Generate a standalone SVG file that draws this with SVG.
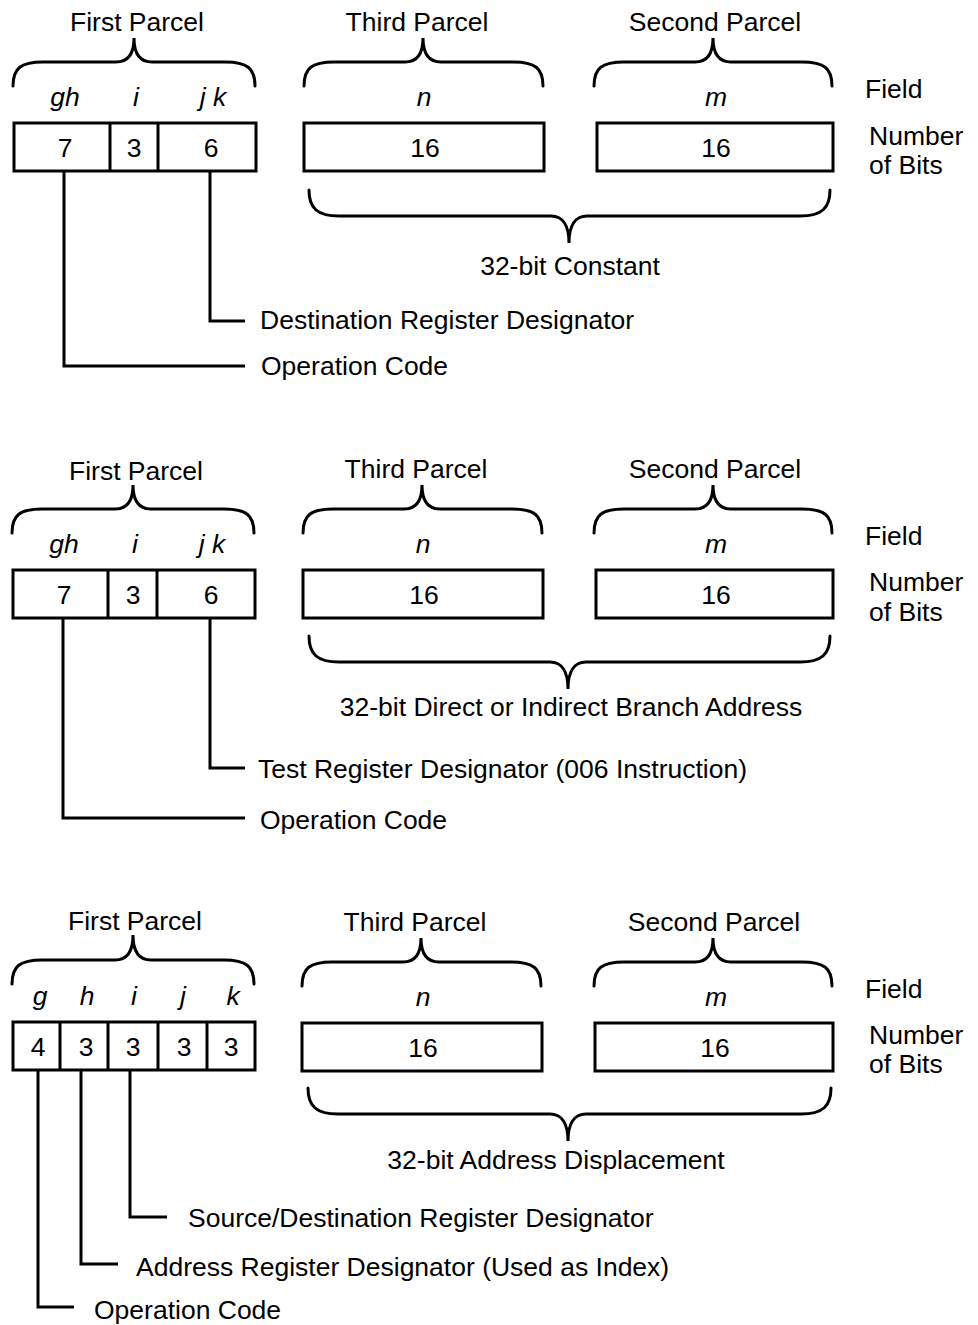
<svg xmlns="http://www.w3.org/2000/svg" width="978" height="1325" viewBox="0 0 978 1325">
<style>
text{font-family:"Liberation Sans",Arial,Helvetica,sans-serif;font-size:26.5px;fill:#000}
.c{text-anchor:middle}
.it{font-style:italic}
.box{fill:#fff;stroke:#000;stroke-width:3}
.ln{fill:none;stroke:#000;stroke-width:3}
.br{fill:none;stroke:#000;stroke-width:3;stroke-linecap:round}
</style>
<rect width="978" height="1325" fill="#fff"/>

<!-- ===== Section 1 ===== -->
<g id="s1-first">
<text class="c" x="137" y="31">First Parcel</text>
<path class="br" d="M13,86 C13,68 21,62 43,62 L116,62 C128,62 134,54 134,38 C134,54 140,62 152,62 L225,62 C247,62 255,68 255,86"/>
<text class="c it" x="65" y="106">gh</text>
<text class="c it" x="136" y="106">i</text>
<text class="c it" x="213" y="106">j k</text>
<rect class="box" x="14" y="123" width="242" height="48"/>
<line class="ln" x1="110" y1="123" x2="110" y2="171"/>
<line class="ln" x1="158" y1="123" x2="158" y2="171"/>
<text class="c" x="65" y="157">7</text>
<text class="c" x="134" y="157">3</text>
<text class="c" x="211" y="157">6</text>
</g>
<g id="s1-third">
<text class="c" x="417" y="31">Third Parcel</text>
<path class="br" d="M304,86 C304,68 312,62 334,62 L405,62 C417,62 423,54 423,38 C423,54 429,62 441,62 L513,62 C535,62 543,68 543,86"/>
<text class="c it" x="424" y="106">n</text>
<rect class="box" x="304" y="123" width="240" height="48"/>
<text class="c" x="425" y="157">16</text>
</g>
<g id="s1-second">
<text class="c" x="715" y="31">Second Parcel</text>
<path class="br" d="M594,86 C594,68 602,62 624,62 L695,62 C707,62 713,54 713,38 C713,54 719,62 731,62 L802,62 C824,62 832,68 832,86"/>
<text class="c it" x="716" y="106">m</text>
<rect class="box" x="597" y="123" width="236" height="48"/>
<text class="c" x="716" y="157">16</text>
</g>
<g id="s1-legend">
<text x="865" y="98">Field</text>
<text x="869" y="145">Number</text>
<text x="869" y="174">of Bits</text>
</g>
<g id="s1-constant">
<path class="br" d="M309,190 C309,208 317,216 339,216 L551,216 C563,216 569,226 569,243 C569,226 575,216 587,216 L800,216 C822,216 830,208 830,190"/>
<text class="c" x="570" y="275">32-bit Constant</text>
</g>
<g id="s1-labels">
<text x="260" y="329">Destination Register Designator</text>
<text x="261" y="375">Operation Code</text>
</g>

<!-- ===== Section 2 ===== -->
<g id="s2-first">
<text class="c" x="136" y="480">First Parcel</text>
<path class="br" d="M12,533 C12,515 20,509 42,509 L115,509 C127,509 133,501 133,485 C133,501 139,509 151,509 L224,509 C246,509 254,515 254,533"/>
<text class="c it" x="64" y="553">gh</text>
<text class="c it" x="135" y="553">i</text>
<text class="c it" x="212" y="553">j k</text>
<rect class="box" x="13" y="570" width="242" height="48"/>
<line class="ln" x1="108" y1="570" x2="108" y2="618"/>
<line class="ln" x1="157" y1="570" x2="157" y2="618"/>
<text class="c" x="64" y="604">7</text>
<text class="c" x="133" y="604">3</text>
<text class="c" x="211" y="604">6</text>
</g>
<g id="s2-third">
<text class="c" x="416" y="478">Third Parcel</text>
<path class="br" d="M303,533 C303,515 311,509 333,509 L404,509 C416,509 422,501 422,485 C422,501 428,509 440,509 L512,509 C534,509 542,515 542,533"/>
<text class="c it" x="423" y="553">n</text>
<rect class="box" x="303" y="570" width="240" height="48"/>
<text class="c" x="424" y="604">16</text>
</g>
<g id="s2-second">
<text class="c" x="715" y="478">Second Parcel</text>
<path class="br" d="M594,533 C594,515 602,509 624,509 L695,509 C707,509 713,501 713,485 C713,501 719,509 731,509 L802,509 C824,509 832,515 832,533"/>
<text class="c it" x="716" y="553">m</text>
<rect class="box" x="596" y="570" width="237" height="48"/>
<text class="c" x="716" y="604">16</text>
</g>
<g id="s2-legend">
<text x="865" y="545">Field</text>
<text x="869" y="591">Number</text>
<text x="869" y="621">of Bits</text>
</g>
<g id="s2-address">
<path class="br" d="M309,636 C309,654 317,662 339,662 L550,662 C562,662 568,672 568,689 C568,672 574,662 586,662 L800,662 C822,662 830,654 830,636"/>
<text class="c" x="571" y="716">32-bit Direct or Indirect Branch Address</text>
</g>
<g id="s2-labels">
<text x="258" y="778">Test Register Designator (006 Instruction)</text>
<text x="260" y="829">Operation Code</text>
</g>

<!-- ===== Section 3 ===== -->
<g id="s3-first">
<text class="c" x="135" y="930">First Parcel</text>
<path class="br" d="M12,984 C12,966 20,960 42,960 L115,960 C127,960 133,952 133,935 C133,952 139,960 151,960 L224,960 C246,960 254,966 254,984"/>
<text class="c it" x="40" y="1005">g</text>
<text class="c it" x="87" y="1005">h</text>
<text class="c it" x="134" y="1005">i</text>
<text class="c it" x="183" y="1005">j</text>
<text class="c it" x="233" y="1005">k</text>
<rect class="box" x="13" y="1022" width="242" height="48"/>
<line class="ln" x1="60" y1="1022" x2="60" y2="1070"/>
<line class="ln" x1="108" y1="1022" x2="108" y2="1070"/>
<line class="ln" x1="158" y1="1022" x2="158" y2="1070"/>
<line class="ln" x1="207" y1="1022" x2="207" y2="1070"/>
<text class="c" x="38" y="1056">4</text>
<text class="c" x="86" y="1056">3</text>
<text class="c" x="133" y="1056">3</text>
<text class="c" x="184" y="1056">3</text>
<text class="c" x="231" y="1056">3</text>
</g>
<g id="s3-third">
<text class="c" x="415" y="931">Third Parcel</text>
<path class="br" d="M302,986 C302,968 310,962 332,962 L403,962 C415,962 421,954 421,938 C421,954 427,962 439,962 L511,962 C533,962 541,968 541,986"/>
<text class="c it" x="423" y="1006">n</text>
<rect class="box" x="302" y="1023" width="240" height="48"/>
<text class="c" x="423" y="1057">16</text>
</g>
<g id="s3-second">
<text class="c" x="714" y="931">Second Parcel</text>
<path class="br" d="M594,986 C594,968 602,962 624,962 L695,962 C707,962 713,954 713,938 C713,954 719,962 731,962 L802,962 C824,962 832,968 832,986"/>
<text class="c it" x="716" y="1006">m</text>
<rect class="box" x="595" y="1023" width="238" height="48"/>
<text class="c" x="715" y="1057">16</text>
</g>
<g id="s3-legend">
<text x="865" y="998">Field</text>
<text x="869" y="1044">Number</text>
<text x="869" y="1073">of Bits</text>
</g>
<g id="s3-displacement">
<path class="br" d="M308,1088 C308,1106 316,1114 338,1114 L550,1114 C562,1114 568,1124 568,1141 C568,1124 574,1114 586,1114 L801,1114 C823,1114 831,1106 831,1088"/>
<text class="c" x="556" y="1169">32-bit Address Displacement</text>
</g>
<g id="s3-labels">
<text x="188" y="1227">Source/Destination Register Designator</text>
<text x="136" y="1276">Address Register Designator (Used as Index)</text>
<text x="94" y="1319">Operation Code</text>
</g>

<!-- ===== Connectors ===== -->
<g id="connectors" class="ln">
<polyline class="ln" points="64,171 64,366 245,366"/>
<polyline class="ln" points="210,171 210,321 245,321"/>
<polyline class="ln" points="63,618 63,818 245,818"/>
<polyline class="ln" points="210,618 210,768 245,768"/>
<polyline class="ln" points="38,1070 38,1307 74,1307"/>
<polyline class="ln" points="81,1070 81,1264 118,1264"/>
<polyline class="ln" points="130,1070 130,1217 167,1217"/>
</g>
</svg>
